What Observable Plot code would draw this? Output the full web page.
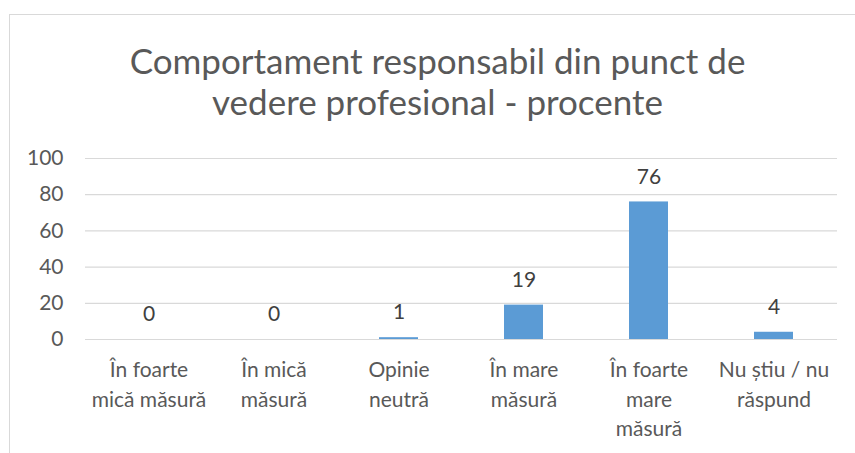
<!DOCTYPE html>
<html><head><meta charset="utf-8">
<script src="https://cdn.jsdelivr.net/npm/d3@7"></script>
<script src="https://cdn.jsdelivr.net/npm/@observablehq/plot@0.6"></script>
<style>
body{margin:0;background:#fff;font-family:Lato,sans-serif;}
#wrap{position:relative;width:855px;height:453px;overflow:hidden;background:#fff;}
#frame{position:absolute;left:9px;top:14px;width:900px;height:500px;border:1px solid #d9d9d9;box-sizing:border-box;}
#title{position:absolute;left:0;width:875px;top:40px;text-align:center;font-size:35px;line-height:41px;color:#595959;font-family:Lato,sans-serif;}
#chart{position:absolute;left:0;top:140px;}
</style></head>
<body><div id="wrap"><div id="frame"></div>
<div id="title">Comportament responsabil din punct de<br>vedere profesional - procente</div>
<div id="chart"></div></div>
<script>
const categories = ["În foarte\nmică măsură","În mică\nmăsură","Opinie\nneutră","În mare\nmăsură","În foarte\nmare\nmăsură","Nu știu / nu\nrăspund"];
const values = [0, 0, 1, 19, 76, 4];
const yTicks = [0, 20, 40, 60, 80, 100];
const data = categories.map((c,i)=>({cat:c, v:values[i]}));
const chart = Plot.plot({
  width: 855, height: 313,
  marginLeft: 85, marginRight: 18, marginTop: 18, marginBottom: 114,
  style:{fontFamily:"Lato, sans-serif", fontSize:"20px", color:"#595959", background:"transparent"},
  x:{domain:categories, paddingInner:0.69, paddingOuter:0.345, label:null},
  y:{domain:[0,100], label:null},
  marks:[
    Plot.gridY(yTicks,{stroke:"#d9d9d9", strokeOpacity:1, strokeWidth:1.2}),
    Plot.axisY(yTicks,{tickSize:0, tickPadding:22, fill:"#595959", fontSize:21, label:null}),
    Plot.axisX({tickSize:0, tickPadding:17, fill:"#595959", fontSize:21, lineHeight:1.4, textAnchor:"middle", label:null}),
    Plot.barY(data,{x:"cat", y:"v", fill:"#5b9bd5"}),
    Plot.text(data,{x:"cat", y:"v", text:d=>String(d.v), dy:-25, fill:"#404040", fontSize:21})
  ]
});
document.getElementById("chart").appendChild(chart);
</script></body></html>
